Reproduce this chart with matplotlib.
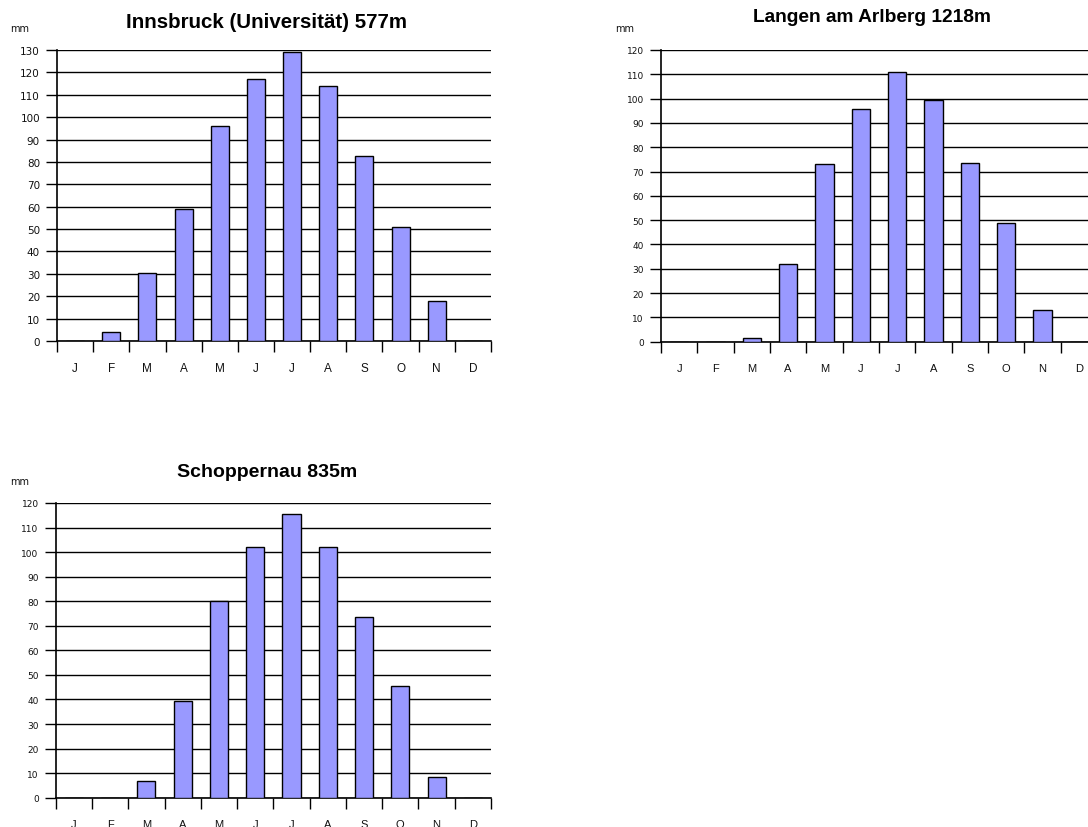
import matplotlib
matplotlib.use("Agg")
import matplotlib.pyplot as plt
from matplotlib.ticker import FixedLocator, NullFormatter

plt.rcParams['font.family'] = ['Liberation Sans', 'DejaVu Sans']

months = ["J", "F", "M", "A", "M", "J", "J", "A", "S", "O", "N", "D"]

innsbruck = [0, 4, 30.4, 59, 96.2, 116.9, 129, 114, 82.6, 51, 17.9, 0]
langen = [0, 0, 1.5, 32.1, 73.3, 95.9, 111.1, 99.6, 73.7, 49, 13.2, 0]
schoppernau = [0, 0, 6.9, 39.5, 80.2, 102.2, 115.7, 102.2, 73.4, 45.3, 8.3, 0]

titles = ["Innsbruck (Universität) 577m", "Langen am Arlberg 1218m", "Schoppernau 835m"]
ymaxes = [130, 120, 120]
series = [innsbruck, langen, schoppernau]

W, H = 1088, 828
fig = plt.figure(figsize=(W / 100, H / 100), dpi=100)

# px boxes: left, top, right, bottom
boxes = [(57, 51, 491, 342), (661, 51, 1097, 342.7), (55.7, 504, 491, 798.7)]
title_pos = [(267, 22, 14.8), (872, 18, 13.8), (267, 473, 14)]
mm_pos = [(20, 29), (625, 29), (20, 482)]
ytick_sizes = [7.5, 6.5, 6.5]
xtick_sizes = [8.5, 8, 8]

for vals, title, ymax, box, tp, mp, ys, xs in zip(series, titles, ymaxes, boxes, title_pos,
                                                  mm_pos, ytick_sizes, xtick_sizes):
    l, t, r, b = box
    ax = fig.add_axes([l / W, (H - b) / H, (r - l) / W, (b - t) / H])
    x = list(range(len(months)))
    ax.bar(x, vals, width=0.5, color="#9999ff", edgecolor="black", linewidth=1.0, zorder=3)
    ax.set_xlim(-0.5, 11.5)
    ax.set_ylim(0, ymax)
    ax.set_yticks(range(0, ymax + 1, 10))
    for lab in ax.get_yticklabels():
        lab.set_fontfamily("DejaVu Sans")
        lab.set_fontsize(ys)
        lab.set_color("#111111")
    ax.yaxis.grid(True, color="black", linewidth=1.0, zorder=1)
    ax.set_axisbelow(True)
    ax.tick_params(axis="y", length=11.5 * 0.72, width=1.0, direction="out", pad=4)
    # x: labels at centers without ticks, ticks at category boundaries
    ax.set_xticks(x)
    ax.set_xticklabels(months, fontsize=xs, color="#111111")
    ax.tick_params(axis="x", which="major", length=0, pad=15)
    ax.xaxis.set_minor_locator(FixedLocator([i - 0.5 for i in range(13)]))
    ax.xaxis.set_minor_formatter(NullFormatter())
    ax.tick_params(axis="x", which="minor", length=11 * 0.72, width=1.0, direction="out")
    for s in ["top", "right"]:
        ax.spines[s].set_visible(False)
    for s in ["left", "bottom"]:
        ax.spines[s].set_linewidth(1.2)
        ax.spines[s].set_color("black")
    fig.text(tp[0] / W, 1 - tp[1] / H, title, fontsize=tp[2], fontweight="bold",
             ha="center", va="center")
    fig.text(mp[0] / W, 1 - mp[1] / H, "mm", fontsize=7, family="DejaVu Sans",
             ha="center", va="center", color="#111111")

fig.savefig("out.png", dpi=100)
